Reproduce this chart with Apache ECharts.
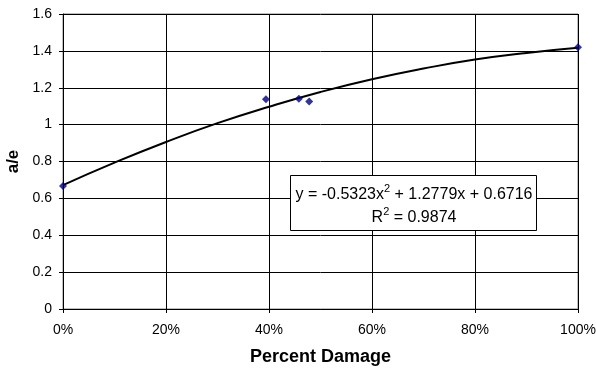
<!DOCTYPE html>
<html>
<head>
<meta charset="utf-8">
<script src="https://cdn.jsdelivr.net/npm/echarts@6/dist/echarts.min.js"></script>
<style>
html,body{margin:0;padding:0;background:#fff;}
#chart{width:596px;height:368px;}
</style>
</head>
<body>
<div id="chart"></div>
<script>
// Measured points (fraction damage, a/e)
const damage = [0.0, 0.394, 0.458, 0.478, 1.0];
const aeValues = [0.667, 1.137, 1.140, 1.125, 1.420];
// Trendline
const trendX = [0.0, 0.1, 0.2, 0.3, 0.4, 0.5, 0.6, 0.7, 0.8, 0.9, 1.0];
const trendY = [0.672, 0.794, 0.906, 1.008, 1.097, 1.177, 1.246, 1.304, 1.353, 1.389, 1.417];
const xTicks = ['0%', '20%', '40%', '60%', '80%', '100%'];
const eqLine1 = 'y = -0.5323x';
const eqLine1b = ' + 1.2779x + 0.6716';
const eqLine2 = 'R';
const eqLine2b = ' = 0.9874';

const chart = echarts.init(document.getElementById('chart'), null, {renderer: 'canvas'});
const font = 'Liberation Sans, Arial, sans-serif';
chart.setOption({
  animation: false,
  backgroundColor: '#fff',
  textStyle: {fontFamily: font},
  grid: {left: 63, top: 14, right: 18, bottom: 59, containLabel: false, outerBoundsMode: 'none',
    show: true, borderColor: '#808080', borderWidth: 1},
  xAxis: {
    type: 'value', min: 0, max: 1, interval: 0.2,
    name: 'Percent Damage', nameLocation: 'middle', nameGap: 39,
    nameTextStyle: {fontFamily: font, fontSize: 18, fontWeight: 'bold', color: '#000'},
    axisLine: {show: true, onZero: false, lineStyle: {color: '#000', width: 1}},
    axisTick: {show: true, length: 4, lineStyle: {color: '#000'}},
    axisLabel: {fontFamily: font, fontSize: 14, color: '#000', margin: 14,
      formatter: v => xTicks[Math.round(v / 0.2)]},
    splitLine: {show: true, lineStyle: {color: '#000', width: 1}}
  },
  yAxis: {
    type: 'value', min: 0, max: 1.6, interval: 0.2,
    name: 'a/e', nameLocation: 'middle', nameGap: 36,
    nameTextStyle: {fontFamily: font, fontSize: 17, fontWeight: 'bold', color: '#000'},
    axisLine: {show: true, lineStyle: {color: '#000', width: 1}},
    axisTick: {show: true, length: 4, lineStyle: {color: '#000'}},
    axisLabel: {fontFamily: font, fontSize: 14, color: '#000', margin: 11,
      formatter: v => String(Math.round(v * 10) / 10)},
    splitLine: {show: true, lineStyle: {color: '#000', width: 1}}
  },
  series: [
    {
      type: 'line', smooth: true, symbol: 'none', z: 3,
      lineStyle: {color: '#000', width: 2},
      data: trendX.map((x, i) => [x, trendY[i]])
    },
    {
      type: 'scatter', symbol: 'diamond', symbolSize: 8, z: 5,
      itemStyle: {color: '#000080'},
      data: damage.map((x, i) => [x, aeValues[i]])
    }
  ],
  graphic: [
    {
      type: 'rect', z: 10,
      shape: {x: 290.5, y: 175.5, width: 246, height: 55},
      style: {fill: '#fff', stroke: '#000', lineWidth: 1}
    },
    {
      type: 'text', z: 11, x: 414, y: 193,
      style: {
        text: '{n|' + eqLine1 + '}{s|2}{n|' + eqLine1b + '}',
        align: 'center', verticalAlign: 'middle',
        rich: {
          n: {fontFamily: font, fontSize: 16, fill: '#000', lineHeight: 20, verticalAlign: 'bottom'},
          s: {fontFamily: font, fontSize: 11, fill: '#000', lineHeight: 20, verticalAlign: 'top'}
        }
      }
    },
    {
      type: 'text', z: 11, x: 414, y: 216,
      style: {
        text: '{n|' + eqLine2 + '}{s|2}{n|' + eqLine2b + '}',
        align: 'center', verticalAlign: 'middle',
        rich: {
          n: {fontFamily: font, fontSize: 16, fill: '#000', lineHeight: 20, verticalAlign: 'bottom'},
          s: {fontFamily: font, fontSize: 11, fill: '#000', lineHeight: 20, verticalAlign: 'top'}
        }
      }
    }
  ]
});
</script>
</body>
</html>
